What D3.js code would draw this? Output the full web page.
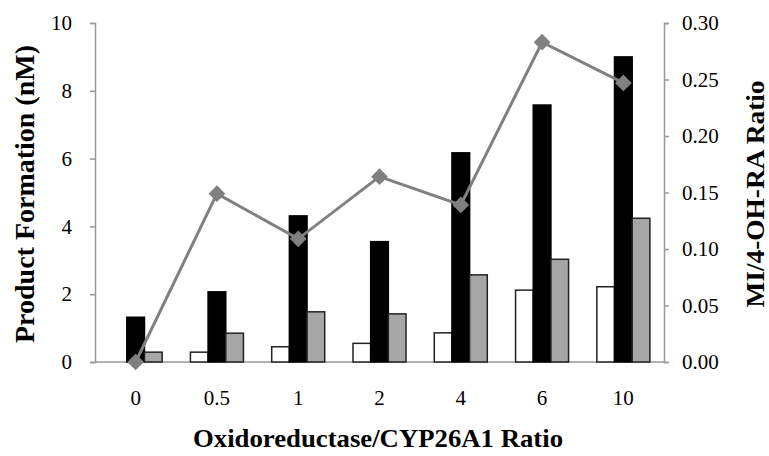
<!DOCTYPE html>
<html>
<head>
  <meta charset="utf-8">
  <title>Product Formation vs Oxidoreductase Ratio</title>
  <style>
    body { margin: 0; background: #fff; }
    text { font-family: "Liberation Serif", "Times New Roman", serif; fill: #000; }
    .tick text { font-size: 21px; }
    .axis path, .axis line { stroke: #999; stroke-width: 1.5px; }
    .title { font-weight: bold; }
  </style>
</head>
<body>
  <svg width="769" height="456"></svg>
  <script src="https://d3js.org/d3.v7.min.js"></script>
  <script>
    // Data
    const ratios = ["0", "0.5", "1", "2", "4", "6", "10"];
    const whiteVals = [0, 0.29, 0.45, 0.55, 0.86, 2.12, 2.22];
    const blackVals = [1.32, 2.07, 4.31, 3.55, 6.17, 7.58, 9.0];
    const grayVals = [0.29, 0.85, 1.48, 1.42, 2.57, 3.03, 4.24];
    const miRatio = [0.0, 0.149, 0.109, 0.164, 0.139, 0.283, 0.247];
    const leftTicks = [0, 2, 4, 6, 8, 10];
    const rightTicks = [0, 0.05, 0.10, 0.15, 0.20, 0.25, 0.30];

    const svg = d3.select("svg");
    const plotL = 95, plotR = 664, plotT = 23, plotB = 362;

    const x = d3.scaleBand().domain(ratios).range([plotL, plotR]);
    const y = d3.scaleLinear().domain([0, 10]).range([plotB, plotT]);
    const y2 = d3.scaleLinear().domain([0, 0.30]).range([plotB, plotT]);

    // Axes
    svg.append("g")
        .attr("class", "axis")
        .attr("transform", `translate(${plotL},0)`)
        .call(d3.axisLeft(y).tickValues(leftTicks).tickSize(5).tickPadding(18));

    svg.append("g")
        .attr("class", "axis")
        .attr("transform", `translate(${plotR},0)`)
        .call(d3.axisRight(y2).tickValues(rightTicks).tickSize(5).tickPadding(13)
          .tickFormat(d3.format(".2f")));

    svg.append("g")
        .attr("class", "axis")
        .attr("transform", `translate(0,${plotB})`)
        .call(d3.axisBottom(x).tickSize(0).tickPadding(28))
        .call(g => g.select(".domain").attr("d", `M${plotL},0H${plotR}`));

    // Bars
    const series = [
      {vals: whiteVals, fill: "#fff", stroke: "#222"},
      {vals: blackVals, fill: "#000", stroke: "#000"},
      {vals: grayVals, fill: "#a6a6a6", stroke: "#222"}
    ];
    const inner = d3.scaleBand().domain([0, 1, 2])
        .range([0, x.bandwidth()]).paddingOuter(0.8).paddingInner(0);

    series.forEach((s, i) => {
      svg.append("g").selectAll("rect")
        .data(ratios)
        .join("rect")
          .attr("x", (d) => x(d) + inner(i))
          .attr("y", (d, j) => y(s.vals[j]))
          .attr("width", inner.bandwidth())
          .attr("height", (d, j) => plotB - y(s.vals[j]))
          .attr("fill", s.fill)
          .attr("stroke", s.stroke)
          .attr("stroke-width", 1.5);
    });

    // Ratio line
    const cx = (d) => x(d) + x.bandwidth() / 2;
    const line = d3.line()
        .x((d, j) => cx(ratios[j]))
        .y((d) => y2(d));

    svg.append("path")
        .datum(miRatio)
        .attr("fill", "none")
        .attr("stroke", "#808080")
        .attr("stroke-width", 3)
        .attr("d", line);

    svg.append("g").selectAll("path")
      .data(miRatio)
      .join("path")
        .attr("d", d3.symbol(d3.symbolSquare, 140))
        .attr("transform", (d, j) => `translate(${cx(ratios[j])},${y2(d)}) rotate(45)`)
        .attr("fill", "#808080");

    // Titles
    svg.append("text")
        .attr("class", "title")
        .attr("transform", "translate(24,194) rotate(-90)")
        .attr("text-anchor", "middle")
        .attr("dy", "0.35em")
        .style("font-size", "28px")
        .attr("textLength", 298)
        .attr("lengthAdjust", "spacingAndGlyphs")
        .text("Product Formation  (nM)");

    svg.append("text")
        .attr("class", "title")
        .attr("transform", "translate(755,194) rotate(-90)")
        .attr("text-anchor", "middle")
        .attr("dy", "0.35em")
        .style("font-size", "26px")
        .attr("textLength", 227)
        .attr("lengthAdjust", "spacingAndGlyphs")
        .text("MI/4-OH-RA Ratio");

    svg.append("text")
        .attr("class", "title")
        .attr("x", 378)
        .attr("y", 447)
        .attr("text-anchor", "middle")
        .style("font-size", "26px")
        .attr("textLength", 370)
        .attr("lengthAdjust", "spacingAndGlyphs")
        .text("Oxidoreductase/CYP26A1 Ratio");
  </script>
</body>
</html>
